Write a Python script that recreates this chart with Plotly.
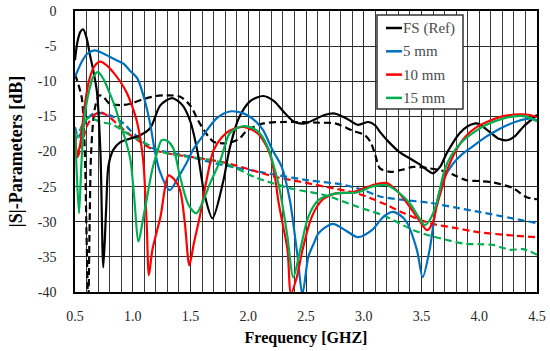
import plotly.graph_objects as go

# ---------------- data ----------------
series_names = ["FS (Ref)", "5 mm", "10 mm", "15 mm"]

fs_x = [0.50, 0.52, 0.545, 0.57, 0.60, 0.63, 0.66, 0.69, 0.72, 0.745, 0.77, 0.79, 0.83, 0.89, 0.97, 1.05,
        1.15, 1.24, 1.34, 1.43, 1.50, 1.56, 1.62, 1.69, 1.78, 1.84, 1.92, 2.02, 2.13, 2.22, 2.32, 2.40,
        2.49, 2.58, 2.66, 2.75, 2.85, 2.95, 3.04, 3.10, 3.14, 3.22, 3.31, 3.40, 3.49, 3.60, 3.66, 3.72,
        3.83, 3.90, 3.98, 4.09, 4.17, 4.24, 4.31, 4.38, 4.50]
fs_y = [-7.0, -4.5, -3.0, -2.6, -3.8, -6.3, -8.6, -11.5, -20.0, -36.5, -28.0, -22.0, -19.8, -18.7, -18.2, -17.8,
        -16.7, -13.4, -12.4, -13.4, -15.8, -20.0, -26.0, -29.5, -24.5, -19.5, -15.2, -12.8, -12.1, -12.8, -14.6, -15.8,
        -16.0, -15.4, -14.8, -14.6, -15.3, -16.2, -15.8, -16.3, -17.2, -18.7, -20.1, -21.0, -21.9, -23.1, -22.2, -20.2,
        -17.4, -16.4, -16.0, -17.2, -18.2, -18.4, -17.8, -16.5, -14.8]

fs_d_x = [0.50, 0.53, 0.56, 0.585, 0.60, 0.615, 0.625, 0.64, 0.67, 0.71, 0.75, 0.80, 0.89, 0.98, 1.08, 1.20,
          1.30, 1.41, 1.50, 1.58, 1.70, 1.82, 1.92, 1.99, 2.13, 2.30, 2.42, 2.60, 2.75, 2.90, 3.01, 3.06,
          3.10, 3.14, 3.23, 3.33, 3.43, 3.57, 3.72, 3.80, 3.89, 4.00, 4.12, 4.29, 4.41, 4.50]
fs_d_y = [-9.0, -10.5, -12.5, -20.0, -32.0, -42.0, -32.0, -20.0, -14.0, -12.0, -12.3, -13.2, -13.4, -13.2, -12.6, -12.1,
          -12.0, -12.2, -13.5, -16.0, -18.6, -18.8, -18.2, -17.0, -16.0, -15.8, -15.8, -15.9, -16.0, -17.0, -17.7, -18.7,
          -20.5, -22.4, -22.9, -22.6, -22.2, -22.4, -22.9, -23.5, -24.1, -24.2, -24.4, -25.2, -26.5, -26.8]

b5_x = [0.50, 0.55, 0.60, 0.67, 0.74, 0.80, 0.86, 0.92, 0.97, 1.04, 1.10, 1.15, 1.19, 1.23, 1.32, 1.40,
        1.47, 1.52, 1.61, 1.73, 1.84, 1.92, 1.99, 2.07, 2.13, 2.21, 2.29, 2.36, 2.42, 2.47, 2.52, 2.57,
        2.61, 2.73, 2.84, 2.95, 3.07, 3.17, 3.25, 3.31, 3.37, 3.46, 3.51, 3.57, 3.63, 3.69, 3.77, 3.85,
        3.95, 4.05, 4.15, 4.25, 4.33, 4.45, 4.50]
b5_y = [-9.4, -7.5, -6.2, -5.6, -6.0, -6.5, -7.0, -7.5, -8.4, -9.6, -12.5, -16.0, -19.8, -22.6, -25.5, -23.5,
        -21.5, -19.8, -17.7, -15.2, -14.3, -14.4, -14.8, -15.8, -17.0, -19.8, -22.2, -26.9, -34.0, -40.2, -35.0, -33.0,
        -31.6, -30.3, -31.2, -32.2, -31.2, -29.3, -28.6, -29.0, -30.0, -34.0, -37.9, -34.0, -27.5, -24.0, -21.8, -20.4,
        -19.2, -18.0, -17.0, -16.2, -15.7, -15.3, -15.6]

b5_d_x = [0.50, 0.53, 0.56, 0.60, 0.65, 0.69, 0.75, 0.80, 0.86, 0.92, 0.98, 1.04, 1.10, 1.15, 1.22, 1.30,
          1.41, 1.60, 1.80, 2.00, 2.23, 2.52, 2.81, 3.00, 3.14, 3.35, 3.57, 3.80, 4.00, 4.25, 4.50]
b5_d_y = [-16.5, -18.0, -17.0, -15.5, -14.7, -14.5, -14.6, -14.8, -15.3, -16.0, -17.0, -17.9, -18.8, -19.4, -19.8, -20.1,
          -20.4, -21.2, -22.0, -22.6, -23.3, -24.1, -24.7, -25.5, -26.4, -26.9, -27.3, -28.0, -28.6, -29.4, -30.2]

r10_x = [0.50, 0.52, 0.545, 0.58, 0.62, 0.67, 0.72, 0.78, 0.83, 0.89, 0.95, 1.00, 1.04, 1.09, 1.12, 1.14,
         1.17, 1.24, 1.31, 1.36, 1.41, 1.45, 1.49, 1.53, 1.58, 1.64, 1.70, 1.77, 1.84, 1.96, 2.08, 2.15,
         2.19, 2.23, 2.26, 2.30, 2.34, 2.37, 2.42, 2.47, 2.55, 2.64, 2.75, 2.90, 3.04, 3.12, 3.20, 3.30,
         3.40, 3.48, 3.55, 3.60, 3.63, 3.68, 3.73, 3.80, 3.88, 3.98, 4.08, 4.20, 4.35, 4.44, 4.50]
r10_y = [-17.5, -20.5, -19.0, -14.0, -10.0, -7.8, -7.2, -7.8, -8.7, -10.0, -11.7, -13.8, -16.0, -21.2, -30.0, -37.6,
         -34.0, -29.3, -23.4, -24.0, -25.5, -30.0, -36.2, -33.0, -29.3, -24.0, -19.8, -18.0, -17.0, -16.5, -17.4, -19.0,
         -20.5, -23.5, -27.0, -30.5, -34.0, -40.2, -37.9, -34.0, -29.3, -26.9, -26.0, -25.8, -25.0, -24.6, -24.5, -25.8,
         -27.9, -29.8, -31.2, -30.0, -27.9, -25.0, -22.3, -19.8, -17.9, -16.5, -15.7, -15.0, -14.7, -14.8, -15.1]

r10_d_x = [0.50, 0.52, 0.55, 0.60, 0.66, 0.72, 0.79, 0.86, 0.93, 1.00, 1.08, 1.15, 1.25, 1.43, 1.60, 1.80,
           2.00, 2.23, 2.45, 2.66, 2.95, 3.17, 3.35, 3.57, 3.80, 4.00, 4.25, 4.50]
r10_d_y = [-17.5, -20.8, -19.5, -16.5, -14.9, -14.4, -15.0, -16.0, -17.0, -17.9, -18.8, -19.5, -20.1, -20.6, -21.0, -21.6,
           -22.5, -23.6, -24.3, -25.0, -26.0, -27.4, -28.8, -30.2, -30.9, -31.5, -31.9, -32.2]

g15_x = [0.50, 0.515, 0.535, 0.555, 0.58, 0.62, 0.66, 0.70, 0.75, 0.80, 0.85, 0.89, 0.94, 0.98, 1.01, 1.05,
         1.09, 1.12, 1.17, 1.21, 1.25, 1.30, 1.35, 1.41, 1.48, 1.55, 1.61, 1.67, 1.76, 1.84, 1.95, 2.03,
         2.10, 2.18, 2.22, 2.26, 2.30, 2.34, 2.39, 2.45, 2.52, 2.61, 2.75, 2.95, 3.07, 3.20, 3.30, 3.40,
         3.47, 3.53, 3.58, 3.63, 3.70, 3.76, 3.85, 3.95, 4.05, 4.15, 4.30, 4.40, 4.50]
g15_y = [-17.0, -23.0, -28.8, -22.0, -15.5, -11.5, -9.3, -8.7, -9.8, -11.7, -13.8, -16.0, -18.5, -21.2, -26.0, -32.8,
         -29.5, -26.9, -22.5, -20.2, -18.4, -18.5, -19.5, -23.6, -27.5, -28.8, -27.0, -24.5, -21.2, -17.4, -16.4, -16.6,
         -17.4, -19.8, -22.0, -24.5, -28.0, -32.2, -37.9, -34.0, -29.3, -26.9, -26.0, -25.8, -25.0, -24.8, -25.8, -27.4,
         -29.2, -30.5, -29.5, -27.4, -22.6, -20.5, -18.6, -17.3, -16.3, -15.6, -15.0, -15.0, -15.7]

g15_d_x = [0.50, 0.53, 0.57, 0.63, 0.68, 0.72, 0.83, 0.95, 1.06, 1.15, 1.24, 1.40, 1.60, 1.80, 2.08, 2.38,
           2.66, 2.95, 3.17, 3.43, 3.58, 3.72, 3.86, 4.00, 4.12, 4.20, 4.27, 4.38, 4.50]
g15_d_y = [-18.5, -17.5, -16.0, -15.1, -15.5, -15.8, -16.2, -17.4, -18.4, -19.2, -20.0, -20.6, -21.0, -21.7, -23.8, -25.3,
           -26.2, -27.9, -29.1, -31.2, -32.0, -32.6, -33.1, -33.2, -33.3, -33.7, -34.0, -33.9, -34.7]

x_ticks = [0.5, 1.0, 1.5, 2.0, 2.5, 3.0, 3.5, 4.0, 4.5]
x_tick_labels = ["0.5", "1.0", "1.5", "2.0", "2.5", "3.0", "3.5", "4.0", "4.5"]
y_ticks = [0, -5, -10, -15, -20, -25, -30, -35, -40]
y_tick_labels = ["0", "-5", "-10", "-15", "-20", "-25", "-30", "-35", "-40"]

# ---------------- styling ----------------
colors = ["#000000", "#0070C0", "#FF0000", "#00B050"]
SERIF = "'Liberation Serif', 'DejaVu Serif', serif"
W, H = 550, 351
ML, MR, MT, MB = 75, 13, 11, 59
PW, PH = W - ML - MR, H - MT - MB
DASH = "7px,4px"

fig = go.Figure()
solid = [(fs_x, fs_y), (b5_x, b5_y), (r10_x, r10_y), (g15_x, g15_y)]
dashed = [(fs_d_x, fs_d_y), (b5_d_x, b5_d_y), (r10_d_x, r10_d_y), (g15_d_x, g15_d_y)]

for (xs, ys), c, n in zip(dashed, colors, series_names):
    fig.add_trace(go.Scatter(x=xs, y=ys, mode="lines", name=n + " (dashed)", showlegend=False,
                             line=dict(color=c, width=2.2, dash=DASH, shape="spline", smoothing=0.8)))
for (xs, ys), c, n in zip(solid, colors, series_names):
    fig.add_trace(go.Scatter(x=xs, y=ys, mode="lines", name=n, showlegend=False,
                             line=dict(color=c, width=2.2, shape="spline", smoothing=0.8)))


def px2x(px):
    return (px - ML) / PW


def py2y(py):
    return (MT + PH - py) / PH


shapes = [dict(type="rect", xref="paper", yref="paper", x0=px2x(377), x1=px2x(463), y0=py2y(109), y1=py2y(15),
               line=dict(color="#333333", width=1.5), fillcolor="white", layer="above")]
annotations = []
for i, (n, c) in enumerate(zip(series_names, colors)):
    yy = 28 + i * 23.3
    shapes.append(dict(type="line", xref="paper", yref="paper", x0=px2x(386), x1=px2x(402),
                       y0=py2y(yy), y1=py2y(yy), line=dict(color=c, width=2.5), layer="above"))
    annotations.append(dict(xref="paper", yref="paper", x=px2x(401), y=py2y(yy), text=n, showarrow=False,
                            xanchor="left", yanchor="middle", font=dict(family=SERIF, size=15, color="#4a4a4a")))

fig.update_layout(
    width=W, height=H,
    margin=dict(l=ML, r=MR, t=MT, b=MB, autoexpand=False),
    paper_bgcolor="white", plot_bgcolor="white",
    showlegend=False,
    shapes=shapes, annotations=annotations,
    font=dict(family=SERIF, size=14, color="#262626"),
)
fig.update_xaxes(
    range=[0.5, 4.5], tickvals=x_ticks, ticktext=x_tick_labels,
    showgrid=True, gridcolor="#2a2a2a", gridwidth=1,
    minor=dict(dtick=0.1, tick0=0.5, showgrid=True, gridcolor="#3a3a3a", gridwidth=1),
    showline=True, linecolor="#000000", linewidth=1.5, mirror=True,
    ticks="", ticklabelstandoff=10, zeroline=False,
    tickfont=dict(family=SERIF, size=14, color="#262626"),
    title=dict(text="<b>Frequency [GHZ]</b>", font=dict(family=SERIF, size=16, color="#000000"), standoff=9),
)
fig.update_yaxes(
    range=[-40, 0], tickvals=y_ticks, ticktext=y_tick_labels,
    showgrid=True, gridcolor="#2a2a2a", gridwidth=1,
    showline=True, linecolor="#000000", linewidth=1.5, mirror=True,
    ticks="", ticklabelstandoff=14, zeroline=False,
    tickfont=dict(family=SERIF, size=14, color="#262626"),
    title=dict(text="<b>|S|-Parameters [dB]</b>", font=dict(family=SERIF, size=18, color="#000000"), standoff=10),
)

fig.write_html("out.html", config={"displayModeBar": False},
               post_script="document.body.style.margin='0';")
